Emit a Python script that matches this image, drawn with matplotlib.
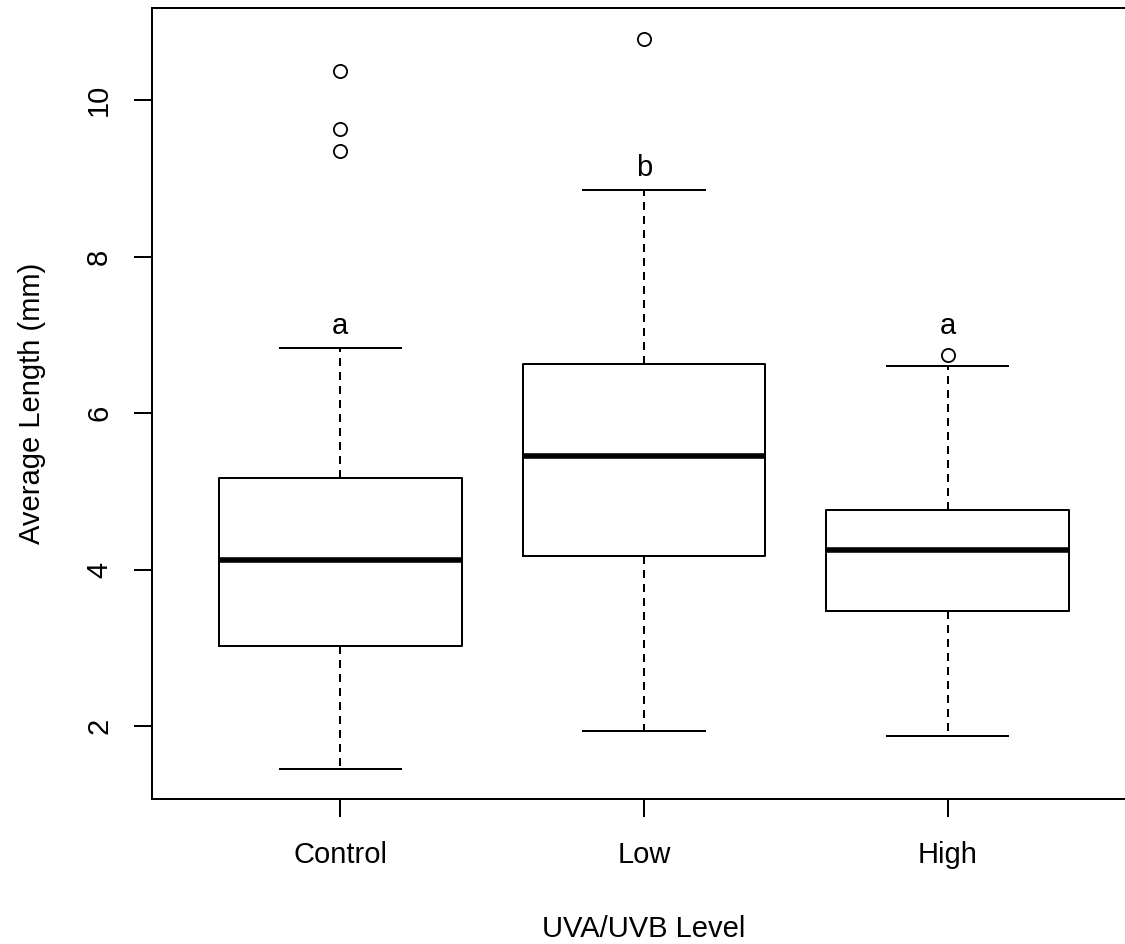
import matplotlib
matplotlib.use("Agg")
import matplotlib.pyplot as plt

# valores
grupos = ["Control", "Low", "High"]
bigote_inf = [1.45, 1.94, 1.88]
q1 = [3.02, 4.17, 3.47]
mediana = [4.13, 5.45, 4.25]
q3 = [5.17, 6.63, 4.76]
bigote_sup = [6.84, 8.85, 6.60]
atipicos = [[10.37, 9.64, 9.35], [10.78], [6.74]]
letras = ["a", "b", "a"]
letras_y = [7.12, 9.13, 7.12]

plt.rcParams["font.family"] = ["Liberation Sans", "DejaVu Sans"]

fig = plt.figure(figsize=(11.25, 9.44), dpi=100)
ax = fig.add_axes([0.1351, 0.1536, 0.8747, 0.8379])

stats = []
for i in range(len(grupos)):
    stats.append({
        "whislo": bigote_inf[i], "q1": q1[i], "med": mediana[i],
        "q3": q3[i], "whishi": bigote_sup[i], "fliers": atipicos[i],
        "label": grupos[i],
    })

lw = 1.44
ax.bxp(stats, positions=[1, 2, 3], widths=0.8, patch_artist=False,
       boxprops=dict(color="black", linewidth=lw),
       medianprops=dict(color="black", linewidth=4.0, solid_capstyle="butt"),
       whiskerprops=dict(color="black", linewidth=lw, linestyle=(0, (4, 3))),
       capprops=dict(color="black", linewidth=lw),
       capwidths=0.4,
       flierprops=dict(marker="o", markerfacecolor="none", markeredgecolor="black",
                       markersize=9.5, markeredgewidth=1.3))

for i, t in enumerate(letras):
    ax.text(i + 1, letras_y[i], t, ha="center", va="center", fontsize=21)

ax.set_xlim(0.38, 3.62)
ax.set_ylim(1.07, 11.18)
ax.set_yticks([2, 4, 6, 8, 10])
ax.set_yticklabels(["2", "4", "6", "8", "10"], rotation=90, va="center")
ax.set_xticks([1, 2, 3])
ax.set_xticklabels(grupos)
ax.tick_params(axis="x", length=13, width=lw, labelsize=21, pad=17)
ax.tick_params(axis="y", length=13, width=lw, labelsize=21, pad=15)
for s in ax.spines.values():
    s.set_linewidth(lw)

ax.set_xlabel("UVA/UVB Level", fontsize=21, labelpad=33)
ax.set_ylabel("Average Length (mm)", fontsize=21, labelpad=28)

fig.savefig("out.png", dpi=100)
